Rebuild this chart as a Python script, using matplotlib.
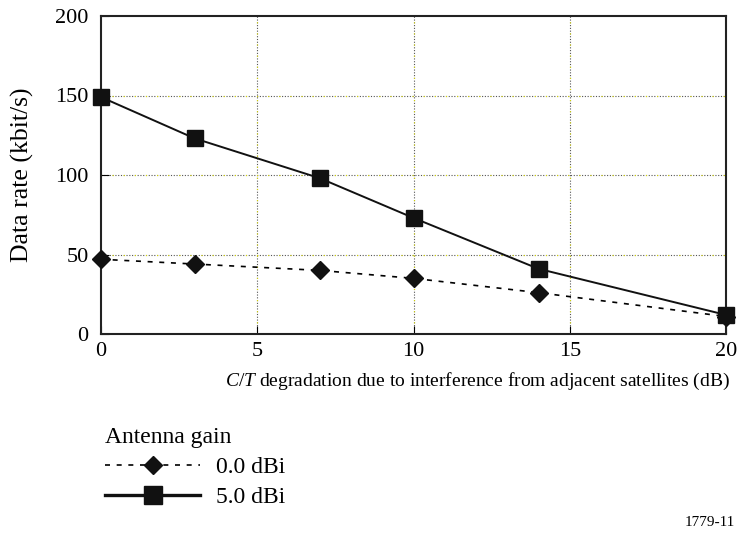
import matplotlib
matplotlib.use("Agg")
import matplotlib.pyplot as plt
from matplotlib.lines import Line2D

plt.rcParams['font.family'] = ['Liberation Serif', 'DejaVu Serif']
plt.rcParams['mathtext.fontset'] = 'custom'
plt.rcParams['mathtext.rm'] = 'Liberation Serif'
plt.rcParams['mathtext.it'] = 'Liberation Serif:italic'

x_vals = [0, 3, 7, 10, 14, 20]
gain0 = [47, 44, 40, 35, 26, 11]
gain5 = [149, 123, 98, 73, 41, 12]
series_labels = ["0.0 dBi", "5.0 dBi"]
xticks = [0, 5, 10, 15, 20]
yticks = [0, 50, 100, 150, 200]

W, H = 738, 538
fig = plt.figure(figsize=(W/100, H/100), dpi=100)
L, R, T, B = 101, 726, 16, 334
ax = fig.add_axes([L/W, 1-B/H, (R-L)/W, (B-T)/H])

# grid: grey dotted with sparse yellowish dots
for xv in xticks[1:-1]:
    ax.axvline(xv, color='#555555', linestyle=(0, (1, 1.5)), lw=0.8, zorder=1)
    ax.axvline(xv, color='#d8d800', linestyle=(0, (1, 9)), lw=0.8, zorder=1)
for yv in yticks[1:-1]:
    ax.axhline(yv, color='#555555', linestyle=(0, (1, 1.5)), lw=0.8, zorder=1)
    ax.axhline(yv, color='#d8d800', linestyle=(0, (1, 9)), lw=0.8, zorder=1)

ax.plot(x_vals, gain0, linestyle=(0, (3, 4)), color='black', lw=1.2,
        marker='D', markersize=9, markerfacecolor='#111111', markeredgecolor='#111111',
        clip_on=False, zorder=3)
ax.plot(x_vals, gain5, linestyle='-', color='#111111', lw=1.4,
        marker='s', markersize=12, markerfacecolor='#111111', markeredgecolor='#111111',
        clip_on=False, zorder=3)

ax.set_xlim(0, 20)
ax.set_ylim(0, 200)
ax.set_xticks(xticks)
ax.set_yticks(yticks)
ax.tick_params(direction='in', length=6, labelsize=16, width=0.8)
ax.tick_params(axis='y', pad=9)
ax.tick_params(axis='x', pad=6)
for s in ax.spines.values():
    s.set_linewidth(1.5)
    s.set_color('#222222')

ax.set_ylabel("Data rate (kbit/s)", fontsize=18.5)
ax.yaxis.set_label_coords(-(L-22)/(R-L), 0.5)
ax.yaxis.label.set_va('center')

fig.text(730/W, 1-381/H,
         "$C/T$ degradation due to interference from adjacent satellites (dB)",
         fontsize=14, ha='right', va='center')

h0 = Line2D([], [], linestyle=(0, (3, 4)), color='black', lw=1.2, marker='D',
            markersize=9, markerfacecolor='#111111', markeredgecolor='#111111')
h1 = Line2D([], [], linestyle='-', color='#111111', lw=2.4, marker='s',
            markersize=13, markerfacecolor='#111111', markeredgecolor='#111111')
leg = fig.legend([h0, h1], series_labels, title="Antenna gain", loc='upper left',
                 bbox_to_anchor=(96/W, 1-418/H), frameon=False, fontsize=17,
                 title_fontsize=17, handlelength=4.0, handletextpad=0.7,
                 labelspacing=0.35, alignment='left', borderaxespad=0)

fig.text(685/W, 1-522/H, "1779-11", fontsize=11, va='center', ha='left')

fig.savefig("out.png", dpi=100)
